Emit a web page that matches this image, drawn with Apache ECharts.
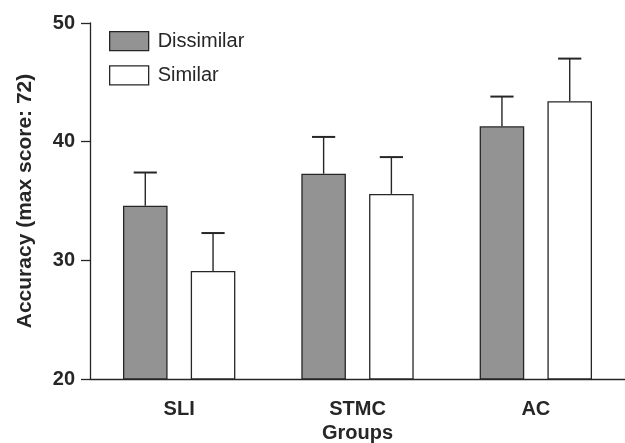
<!DOCTYPE html>
<html>
<head>
<meta charset="utf-8">
<script src="https://cdn.jsdelivr.net/npm/echarts@6/dist/echarts.min.js"></script>
<style>
  html, body { margin: 0; padding: 0; background: #fff; }
  #main { width: 625px; height: 443px; }
</style>
</head>
<body>
<div id="main"></div>
<script>
// values
const categories = ['SLI', 'STMC', 'AC'];
const dissimilar = [34.6, 37.3, 41.3];
const similar = [29.1, 35.6, 43.4];
const dissimilarErr = [2.8, 3.1, 2.5];
const similarErr = [3.2, 3.1, 3.6];
const seriesNames = ['Dissimilar', 'Similar'];

const font = 'Liberation Sans, Arial, Helvetica, sans-serif';
const ink = '#262626';

// error bar rows: [category index, mean, mean + err, series index]
let errData = [];
categories.forEach((c, i) => {
    errData.push([i, dissimilar[i], dissimilar[i] + dissimilarErr[i], 0]);
    errData.push([i, similar[i], similar[i] + similarErr[i], 1]);
});

const chart = echarts.init(document.getElementById('main'));

const renderErr = (params, api) => {
    const idx = api.value(0);
    const s = api.value(3);
    const bandW = api.size([1, 0])[0];
    const bw = bandW * 0.25;
    const gap = bw * 0.52;
    const off = -(2 * bw + gap) / 2 + s * (bw + gap) + bw / 2;
    const p0 = api.coord([idx, api.value(1)]);
    const p1 = api.coord([idx, api.value(2)]);
    const x = p0[0] + off;
    const cap = bw * 0.26;
    return {
        type: 'group',
        children: [
            { type: 'line', shape: { x1: x, y1: p0[1], x2: x, y2: p1[1] }, style: { stroke: ink, lineWidth: 1.4 } },
            { type: 'line', shape: { x1: x - cap, y1: p1[1], x2: x + cap, y2: p1[1] }, style: { stroke: ink, lineWidth: 2 } }
        ]
    };
};

chart.setOption({
    animation: false,
    backgroundColor: '#fff',
    textStyle: { fontFamily: font },
    grid: { left: 90, right: 0, top: 23, bottom: 64, outerBoundsMode: 'none' },
    legend: {
        orient: 'vertical',
        left: 104,
        top: 26,
        icon: 'rect',
        itemWidth: 39,
        itemHeight: 19,
        itemGap: 14,
        data: seriesNames,
        itemStyle: { borderColor: ink, borderWidth: 1.3 },
        textStyle: { fontSize: 20, color: ink, fontFamily: font, padding: [0, 0, 0, 4] }
    },
    xAxis: {
        type: 'category',
        data: categories,
        name: 'Groups',
        nameLocation: 'middle',
        nameGap: 43,
        nameTextStyle: { fontSize: 20, fontWeight: 'bold', color: ink, fontFamily: font },
        axisLine: { lineStyle: { color: ink, width: 1.3 } },
        axisTick: { alignWithLabel: true, length: 10, lineStyle: { color: ink, width: 1.3 } },
        axisLabel: { fontSize: 20, fontWeight: 'bold', color: ink, margin: 20, fontFamily: font }
    },
    yAxis: {
        type: 'value',
        min: 20,
        max: 50,
        interval: 10,
        name: 'Accuracy (max score: 72)',
        nameLocation: 'middle',
        nameGap: 54,
        nameTextStyle: { fontSize: 21, fontWeight: 'bold', color: ink, fontFamily: font },
        axisLine: { show: true, lineStyle: { color: ink, width: 1.3 } },
        axisTick: { show: true, length: 9, lineStyle: { color: ink, width: 1.3 } },
        axisLabel: { fontSize: 20, fontWeight: 'bold', color: ink, margin: 15, fontFamily: font },
        splitLine: { show: false }
    },
    series: [
        {
            name: seriesNames[0],
            type: 'bar',
            data: dissimilar,
            barWidth: '25%',
            barGap: '52%',
            itemStyle: { color: '#939393', borderColor: ink, borderWidth: 1.3 }
        },
        {
            name: seriesNames[1],
            type: 'bar',
            data: similar,
            barWidth: '25%',
            barGap: '52%',
            itemStyle: { color: '#ffffff', borderColor: ink, borderWidth: 1.3 }
        },
        {
            type: 'custom',
            data: errData,
            encode: { x: 0, y: 2 },
            renderItem: renderErr,
            z: 5,
            silent: true
        }
    ]
});
</script>
</body>
</html>
